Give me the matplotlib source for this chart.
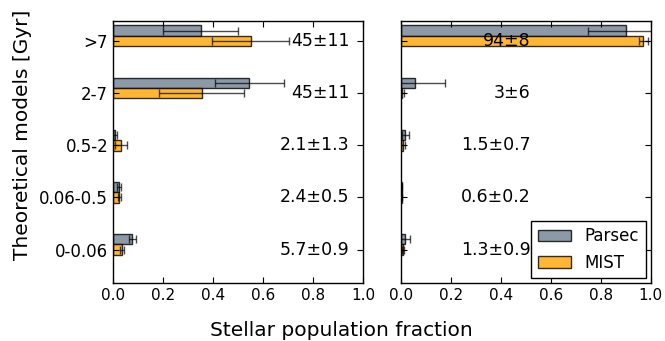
import matplotlib
matplotlib.use("Agg")
import matplotlib.pyplot as plt
import numpy as np

plt.rcParams['font.family'] = ['DejaVu Sans']
plt.rcParams['xtick.direction'] = 'in'
plt.rcParams['ytick.direction'] = 'in'
plt.rcParams['xtick.top'] = True
plt.rcParams['ytick.right'] = True
plt.rcParams['xtick.major.size'] = 4
plt.rcParams['ytick.major.size'] = 4
plt.rcParams['axes.linewidth'] = 1.0

# Age bins (bottom to top)
age_bins = ['0-0.06', '0.06-0.5', '0.5-2', '2-7', '>7']

# Left panel
left_parsec = [0.077, 0.024, 0.009, 0.545, 0.35]
left_parsec_err = [0.015, 0.009, 0.008, 0.138, 0.15]
left_mist = [0.037, 0.024, 0.033, 0.355, 0.55]
left_mist_err = [0.008, 0.006, 0.024, 0.17, 0.155]
left_labels = ['5.7±0.9', '2.4±0.5', '2.1±1.3', '45±11', '45±11']

# Right panel
right_parsec = [0.016, 0.004, 0.019, 0.058, 0.90]
right_parsec_err = [0.02, 0.003, 0.013, 0.12, 0.15]
right_mist = [0.010, 0.004, 0.011, 0.005, 0.97]
right_mist_err = [0.005, 0.003, 0.008, 0.009, 0.018]
right_labels = ['1.3±0.9', '0.6±0.2', '1.5±0.7', '3±6', '94±8']

xticks = [0.0, 0.2, 0.4, 0.6, 0.8, 1.0]

fig = plt.figure(figsize=(6.65, 3.41), dpi=100)
ax1 = fig.add_axes([0.170, 0.169, 0.376, 0.770])
ax2 = fig.add_axes([0.6026, 0.169, 0.376, 0.770], sharey=ax1)

pos = np.arange(len(age_bins))
h = 0.2
parsec_color = 'slategray'
mist_color = 'orange'
err_kw = dict(ecolor='black', elinewidth=1.0, capsize=3, capthick=1.0, alpha=0.7)


def draw(ax, parsec, parsec_err, mist, mist_err, labels, text_x):
    ax.barh(pos + h, parsec, height=h, xerr=parsec_err, color=parsec_color,
            alpha=0.8, edgecolor='black', linewidth=1.0, error_kw=err_kw,
            label='Parsec')
    ax.barh(pos, mist, height=h, xerr=mist_err, color=mist_color,
            alpha=0.8, edgecolor='black', linewidth=1.0, error_kw=err_kw,
            label='MIST')
    for y, lab in zip(pos, labels):
        ax.text(text_x, y, lab, ha='right', va='center', fontsize=12.5)
    ax.set_xlim(0, 1.0)
    ax.set_xticks(xticks)
    ax.set_xticklabels([f'{t:.1f}' for t in xticks], fontsize=11)


draw(ax1, left_parsec, left_parsec_err, left_mist, left_mist_err,
     left_labels, 0.945)
draw(ax2, right_parsec, right_parsec_err, right_mist, right_mist_err,
     right_labels, 0.52)

ax1.set_ylim(-0.65, 4.39)
ax1.set_yticks(pos)
ax1.set_yticklabels(age_bins, fontsize=12)
ax2.tick_params(labelleft=False)

leg = ax2.legend(loc='lower right', fontsize=12, fancybox=False,
                 framealpha=1.0, edgecolor='black', borderaxespad=0.3,
                 handlelength=2.0)
leg.get_frame().set_linewidth(1.0)

fig.text(0.514, 0.032, 'Stellar population fraction', ha='center',
         va='center', fontsize=14.5)
fig.text(0.034, 0.604, 'Theoretical models [Gyr]', ha='center',
         va='center', rotation=90, fontsize=14.5)

fig.savefig('out.png', dpi=100)
